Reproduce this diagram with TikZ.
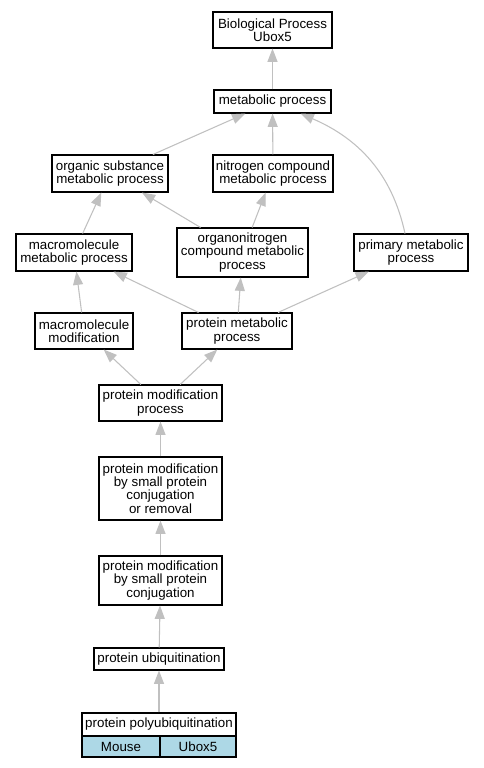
\documentclass[tikz,border=0pt]{standalone}
\usepackage{fontspec}
\setmainfont{Liberation Sans}
\usetikzlibrary{arrows.meta, calc}
\definecolor{cellblue}{HTML}{ADD8E6}
\definecolor{edgegray}{HTML}{C0C0C0}

\begin{document}
\begin{tikzpicture}[
  x=0.75pt, y=-0.75pt,
  >={Triangle[length=10pt, width=7.5pt]},
  font=\fontsize{10}{10}\selectfont,
  term/.style={rectangle, draw, line width=0.8pt, align=center, inner sep=0pt},
  cell/.style={term, fill=cellblue},
  isa/.style={->, line width=0.8pt, edgegray},
]
  \useasboundingbox (0,0) rectangle (483,768);

  \foreach \name/\x/\y/\w/\h/\txt in {%
      bp/272.5/30/119/36/Biological Process\\Ubox5,
      mp/272.5/101.5/117/23/metabolic process,
      osmp/110/173.5/116/37/organic substance\\metabolic process,
      ncmp/273/173.5/120/37/nitrogen compound\\metabolic process,
      mmp/74/252.5/116/37/macromolecule\\metabolic process,
      ocmp/242.5/252.5/131/49/organonitrogen\\compound metabolic\\process,
      pmp/411/252.5/114/37/primary metabolic\\process,
      mm/84/331/98/36/macromolecule\\modification,
      prmp/237/331/110/36/protein metabolic\\process,
      pmodp/160.5/403/123/36/protein modification\\process,
      pmsr/160.5/488.5/123/63/protein modification\\by small protein\\conjugation\\or removal,
      pmsc/160.5/580.5/123/49/protein modification\\by small protein\\conjugation,
      pu/159/659/130/22/protein ubiquitination,
      ppu/159/724.5/154/23/protein polyubiquitination}
    \node[term, minimum width=\w*0.75pt, minimum height=\h*0.75pt] (\name) at (\x,\y) {\txt};

  % record cells under the gene term
  \node[cell, minimum width=78*0.75pt, minimum height=21*0.75pt] (mouse) at (121,746.5) {Mouse};
  \node[cell, minimum width=76*0.75pt, minimum height=21*0.75pt] (gene) at (198,746.5) {Ubox5};

  \foreach \from/\to in {%
      mp/bp, osmp/mp, ncmp/mp, mmp/osmp, ocmp/osmp, ocmp/ncmp,
      mm/mmp, prmp/mmp, prmp/ocmp, prmp/pmp, pmodp/mm, pmodp/prmp,
      pmsr/pmodp, pmsc/pmsr, pu/pmsc, ppu/pu}
    \draw[isa] (\from) -- (\to);

  \draw[isa] ($(pmp.north)+(-6,0)$) .. controls +(-13,-60) and +(58,25) .. ($(mp.south east)+(-31,0)$);
\end{tikzpicture}
\end{document}
